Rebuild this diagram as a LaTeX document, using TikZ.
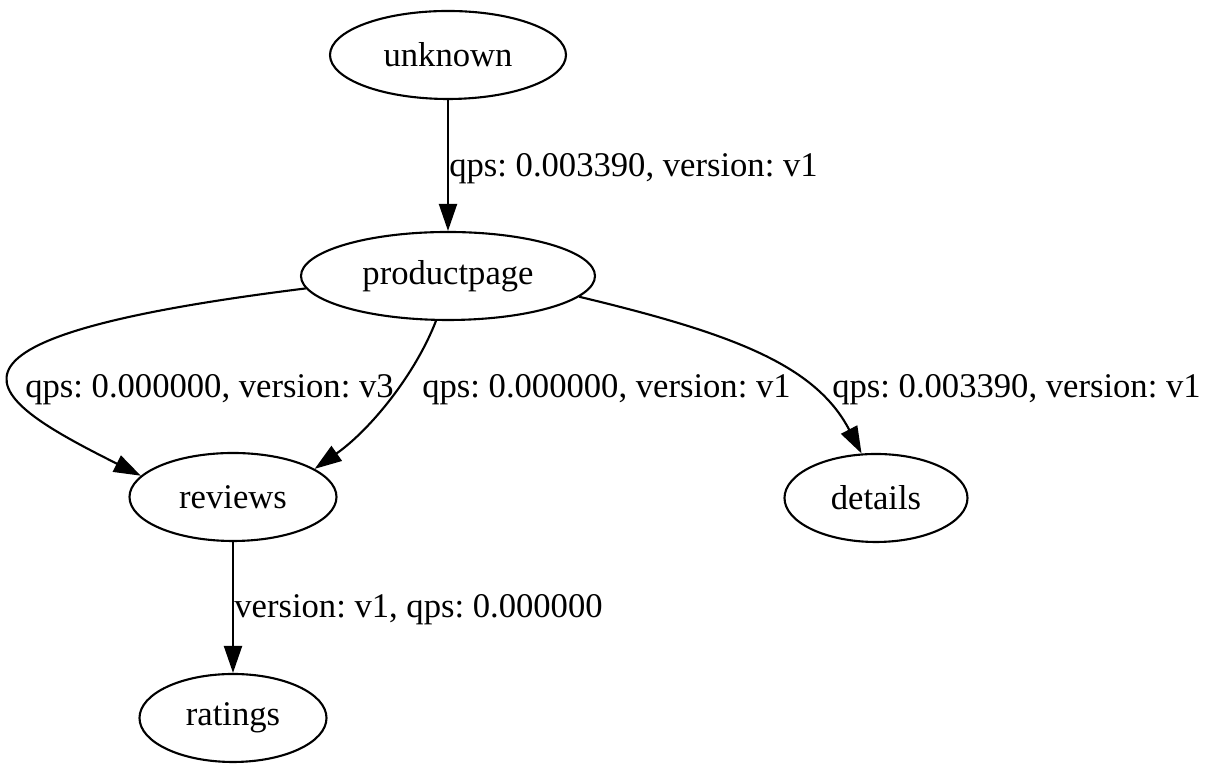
\documentclass[tikz,border=0pt]{standalone}
\usepackage{fontspec}
\setmainfont{Liberation Serif}
\usepackage{tikz}
\usetikzlibrary{positioning,arrows.meta,shapes.geometric}
\definecolor{ink}{HTML}{000000}
\frenchspacing
\tikzset{
  svc/.style ={ellipse, draw=ink, line width=1.2pt, minimum height=1.76cm, inner sep=0pt, font=\fontsize{19.7}{23}\selectfont},
  elbl/.style={inner sep=0pt, anchor=base west, font=\fontsize{19.7}{23}\selectfont},
  link/.style={draw=ink, line width=1.2pt, -{Triangle[length=5.4mm,width=3.6mm]}},
}

\begin{document}
\begin{tikzpicture}
\useasboundingbox (0,0) rectangle (24.32,15.28);
\node[svc, minimum width=4.72cm] (unknown) at (8.96,14.18) {unknown};
\node[svc, minimum width=5.88cm] (productpage) at (8.96,9.76) {productpage};
\node[svc, minimum width=4.14cm] (reviews) at (4.66,5.34) {reviews};
\node[svc, minimum width=3.66cm] (details) at (17.52,5.32) {details};
\node[svc, minimum width=3.74cm] (ratings) at (4.66,0.92) {ratings};

\draw[link] (unknown) -- (productpage);
\draw[link] (productpage.185) .. controls (-2.2,8.48) and (-0.2,7.28) .. (reviews.167);
\draw[link] (productpage.255) .. controls (8.30,7.78) and (7.40,6.68) .. (reviews.19);
\draw[link] (productpage.-9) .. controls (14.60,8.62) and (16.30,8.00) .. (details.108);
\draw[link] (reviews) -- (ratings);

\node[elbl] (l1) at (8.98,11.74) {qps: 0.003390, version: v1};
\node[elbl] (l2) at (0.50,7.32) {qps: 0.000000, version: v3};
\node[elbl] (l3) at (8.44,7.32) {qps: 0.000000, version: v1};
\node[elbl] (l4) at (16.64,7.32) {qps: 0.003390, version: v1};
\node[elbl] (l5) at (4.68,2.92) {version: v1, qps: 0.000000};

\end{tikzpicture}
\end{document}
